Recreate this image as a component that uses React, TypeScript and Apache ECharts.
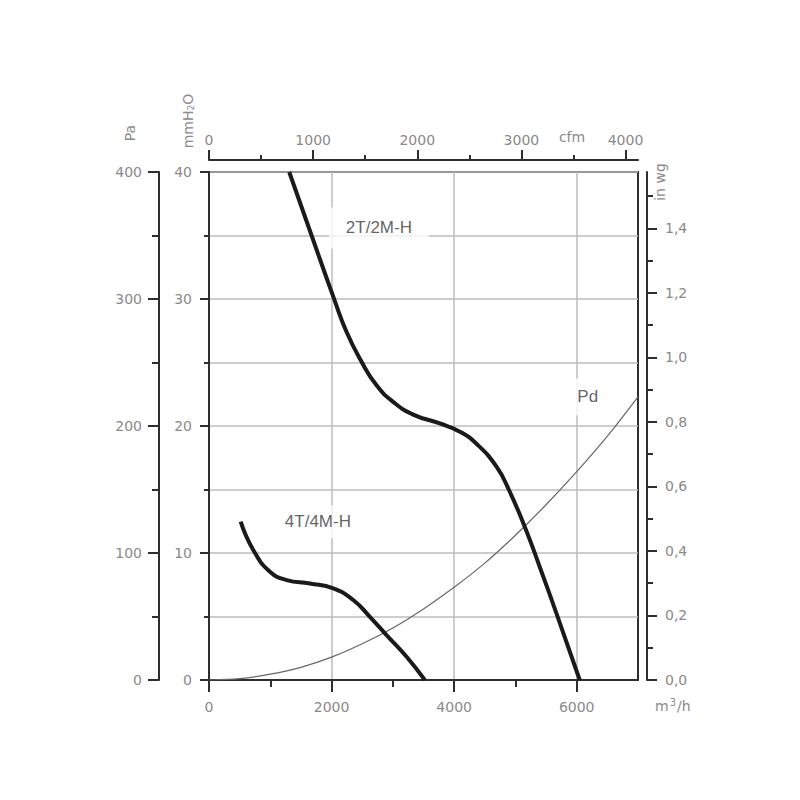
import React, { useEffect, useRef } from "react";
import * as echarts from "echarts";

// ---- data (m³/h vs mmH2O) ----
const flow2T = [1309, 1674, 2038, 2245, 2489, 2734, 3005, 3332, 3767, 4093, 4365, 4691, 4900, 5152, 5397, 5669, 6049];
const press2T = [40, 35, 30.05, 27.4, 25.06, 23.2, 21.9, 20.9, 20.2, 19.55, 18.6, 16.8, 14.9, 12.07, 8.9, 5.25, 0];

const flow4T = [517, 722, 995, 1267, 1647, 2027, 2353, 2625, 2897, 3224, 3522];
const press4T = [12.47, 10.24, 8.53, 7.87, 7.6, 7.22, 6.3, 4.98, 3.54, 1.83, 0];

const flowPd = [0, 500, 1000, 1500, 2000, 2500, 3000, 3500, 4000, 4500, 5000, 5500, 6000, 6500, 7000];
const pressPd = [0, 0.11, 0.46, 1.0, 1.8, 2.85, 4.1, 5.6, 7.3, 9.2, 11.4, 13.8, 16.4, 19.2, 22.3];

const curveNames = ["2T/2M-H", "4T/4M-H", "Pd"];
const curveLabelFlow = [2772, 1777, 6180];
const curveLabelPress = [35.6, 12.46, 22.3];

// ---- axis ticks ----
const flowMajor = [0, 2000, 4000, 6000];
const flowMinor = [1000, 3000, 5000];
const cfmMajor = [0, 1000, 2000, 3000, 4000];
const cfmMinor = [500, 1500, 2500, 3500];
const inwgMajor = [0, 0.2, 0.4, 0.6, 0.8, 1.0, 1.2, 1.4];
const inwgMinor = [0.1, 0.3, 0.5, 0.7, 0.9, 1.1, 1.3, 1.5];

const FLOW_MAX = 7000;
const CFM_MAX = 4120;
const MM_MAX = 40;
const PA_MAX = 400;
const INWG_MAX = 1.575;

const AXIS_COLOR = "#2e2e2e";
const LABEL_COLOR = "#8a8a8a";
const GRID_COLOR = "#bdbdbd";
const FONT = "DejaVu Sans";

const plain = (v: number) => String(v);
const labelStyle = { color: LABEL_COLOR, fontFamily: FONT, fontSize: 14, formatter: plain };

export default function App() {
  const ref = useRef<HTMLDivElement>(null);
  useEffect(() => {
    if (!ref.current) return;
    const chart = echarts.init(ref.current, null, { renderer: "svg" });
    const zip = (a: number[], b: number[]) => a.map((v, i) => [v, b[i]]);
    const option: any = {
      animation: false,
      backgroundColor: "#fff",
      grid: {
        left: 209,
        top: 172,
        right: 162,
        bottom: 120,
        show: true,
        borderColor: AXIS_COLOR,
        borderWidth: 2,
      },
      xAxis: [
        {
          type: "value",
          position: "bottom",
          min: 0,
          max: FLOW_MAX,
          interval: 1000,
          axisLine: { show: true, onZero: false, lineStyle: { color: AXIS_COLOR, width: 2 } },
          axisTick: { show: true, customValues: flowMajor, length: 12, lineStyle: { color: AXIS_COLOR, width: 2 } },
          axisLabel: { ...labelStyle, customValues: flowMajor, margin: 20 },
          splitLine: { show: true, lineStyle: { color: GRID_COLOR, width: 1.5 } },
        },
        {
          type: "value",
          position: "bottom",
          offset: 0,
          min: 0,
          max: FLOW_MAX,
          axisLine: { show: false, onZero: false },
          axisTick: { show: true, customValues: flowMinor, length: 7, lineStyle: { color: AXIS_COLOR, width: 2 } },
          axisLabel: { show: false },
          splitLine: { show: false },
        },
        {
          type: "value",
          position: "top",
          offset: 12,
          min: 0,
          max: CFM_MAX,
          axisLine: { show: true, onZero: false, lineStyle: { color: AXIS_COLOR, width: 2 } },
          axisTick: { show: true, customValues: cfmMajor, length: 10, lineStyle: { color: AXIS_COLOR, width: 2 } },
          axisLabel: { ...labelStyle, customValues: cfmMajor, margin: 13 },
          splitLine: { show: false },
        },
        {
          type: "value",
          position: "top",
          offset: 12,
          min: 0,
          max: CFM_MAX,
          axisLine: { show: false, onZero: false },
          axisTick: { show: true, customValues: cfmMinor, length: 5, lineStyle: { color: AXIS_COLOR, width: 2 } },
          axisLabel: { show: false },
          splitLine: { show: false },
        },
      ],
      yAxis: [
        {
          type: "value",
          position: "left",
          offset: 0,
          min: 0,
          max: MM_MAX,
          interval: 10,
          axisLine: { show: true, onZero: false, lineStyle: { color: AXIS_COLOR, width: 2 } },
          axisTick: { show: true, length: 9, lineStyle: { color: AXIS_COLOR, width: 2 } },
          minorTick: { show: true, splitNumber: 2, length: 5, lineStyle: { color: AXIS_COLOR, width: 2 } },
          axisLabel: { ...labelStyle, margin: 17 },
          splitLine: { show: true, lineStyle: { color: GRID_COLOR, width: 1.5 } },
          minorSplitLine: { show: true, lineStyle: { color: GRID_COLOR, width: 1.5 } },
        },
        {
          type: "value",
          position: "left",
          offset: 50,
          min: 0,
          max: PA_MAX,
          interval: 100,
          axisLine: { show: true, onZero: false, lineStyle: { color: AXIS_COLOR, width: 2 } },
          axisTick: { show: true, length: 11, lineStyle: { color: AXIS_COLOR, width: 2 } },
          minorTick: { show: true, splitNumber: 2, length: 7, lineStyle: { color: AXIS_COLOR, width: 2 } },
          axisLabel: { ...labelStyle, margin: 17 },
          splitLine: { show: false },
        },
        {
          type: "value",
          position: "right",
          offset: 9,
          min: 0,
          max: INWG_MAX,
          axisLine: { show: true, onZero: false, lineStyle: { color: AXIS_COLOR, width: 2 } },
          axisTick: { show: true, customValues: inwgMajor, length: 10, lineStyle: { color: AXIS_COLOR, width: 2 } },
          axisLabel: {
            ...labelStyle,
            customValues: inwgMajor,
            margin: 18,
            formatter: (v: number) => v.toFixed(1).replace(".", ","),
          },
          splitLine: { show: false },
        },
        {
          type: "value",
          position: "right",
          offset: 9,
          min: 0,
          max: INWG_MAX,
          axisLine: { show: false, onZero: false },
          axisTick: { show: true, customValues: inwgMinor, length: 6, lineStyle: { color: AXIS_COLOR, width: 2 } },
          axisLabel: { show: false },
          splitLine: { show: false },
        },
      ],
      series: [
        {
          type: "line",
          xAxisIndex: 0,
          yAxisIndex: 0,
          data: zip(flowPd, pressPd),
          smooth: 0.3,
          showSymbol: false,
          lineStyle: { color: "#666", width: 1.2 },
          z: 3,
        },
        {
          type: "line",
          xAxisIndex: 0,
          yAxisIndex: 0,
          data: zip(flow2T, press2T),
          smooth: 0.5,
          showSymbol: false,
          lineStyle: { color: "#1a1a1a", width: 4 },
          z: 4,
        },
        {
          type: "line",
          xAxisIndex: 0,
          yAxisIndex: 0,
          data: zip(flow4T, press4T),
          smooth: 0.5,
          showSymbol: false,
          lineStyle: { color: "#1a1a1a", width: 4 },
          z: 4,
        },
        {
          type: "scatter",
          xAxisIndex: 0,
          yAxisIndex: 0,
          symbolSize: 1,
          itemStyle: { color: "rgba(0,0,0,0)" },
          z: 2,
          data: curveNames.map((n, i) => ({
            value: [curveLabelFlow[i], curveLabelPress[i]],
            name: n,
            label: {
              padding: i === 0 ? [12, 17] : i === 1 ? [8, 14] : [10, 8],
            },
          })),
          label: {
            show: true,
            position: "inside",
            formatter: (p: any) => p.name,
            color: "#3a3a3a",
            fontFamily: "Liberation Sans",
            fontSize: 17,
            backgroundColor: "#fff",
          },
        },
      ],
      graphic: [
        {
          type: "text",
          x: 130,
          y: 133,
          rotation: Math.PI / 2,
          style: { text: "Pa", fill: LABEL_COLOR, font: `14px "${FONT}"`, align: "center", verticalAlign: "middle" },
        },
        {
          type: "text",
          x: 188,
          y: 121,
          rotation: Math.PI / 2,
          style: {
            text: "mmH{sub|2}O",
            fill: LABEL_COLOR,
            font: `14px "${FONT}"`,
            align: "center",
            verticalAlign: "middle",
            rich: {
              sub: { fontSize: 9, fill: LABEL_COLOR, fontFamily: FONT, verticalAlign: "bottom", padding: [6, 0, 0, 0] },
            },
          },
        },
        {
          type: "text",
          x: 660,
          y: 182,
          rotation: Math.PI / 2,
          style: { text: "in wg", fill: LABEL_COLOR, font: `14px "${FONT}"`, align: "center", verticalAlign: "middle" },
        },
        {
          type: "text",
          x: 572,
          y: 137,
          style: { text: "cfm", fill: LABEL_COLOR, font: `14px "${FONT}"`, align: "center", verticalAlign: "middle" },
        },
        {
          type: "text",
          x: 655,
          y: 706,
          style: {
            text: "m{sup|3}/h",
            fill: LABEL_COLOR,
            font: `14px "${FONT}"`,
            align: "left",
            verticalAlign: "middle",
            rich: {
              sup: { fontSize: 10, fill: LABEL_COLOR, fontFamily: FONT, padding: [0, 1, 8, 1] },
            },
          },
        },
      ],
    };
    chart.setOption(option);
    return () => chart.dispose();
  }, []);
  return (
    <div
      ref={ref}
      style={{ position: "fixed", left: 0, top: 0, width: 800, height: 800, background: "#fff" }}
    />
  );
}
